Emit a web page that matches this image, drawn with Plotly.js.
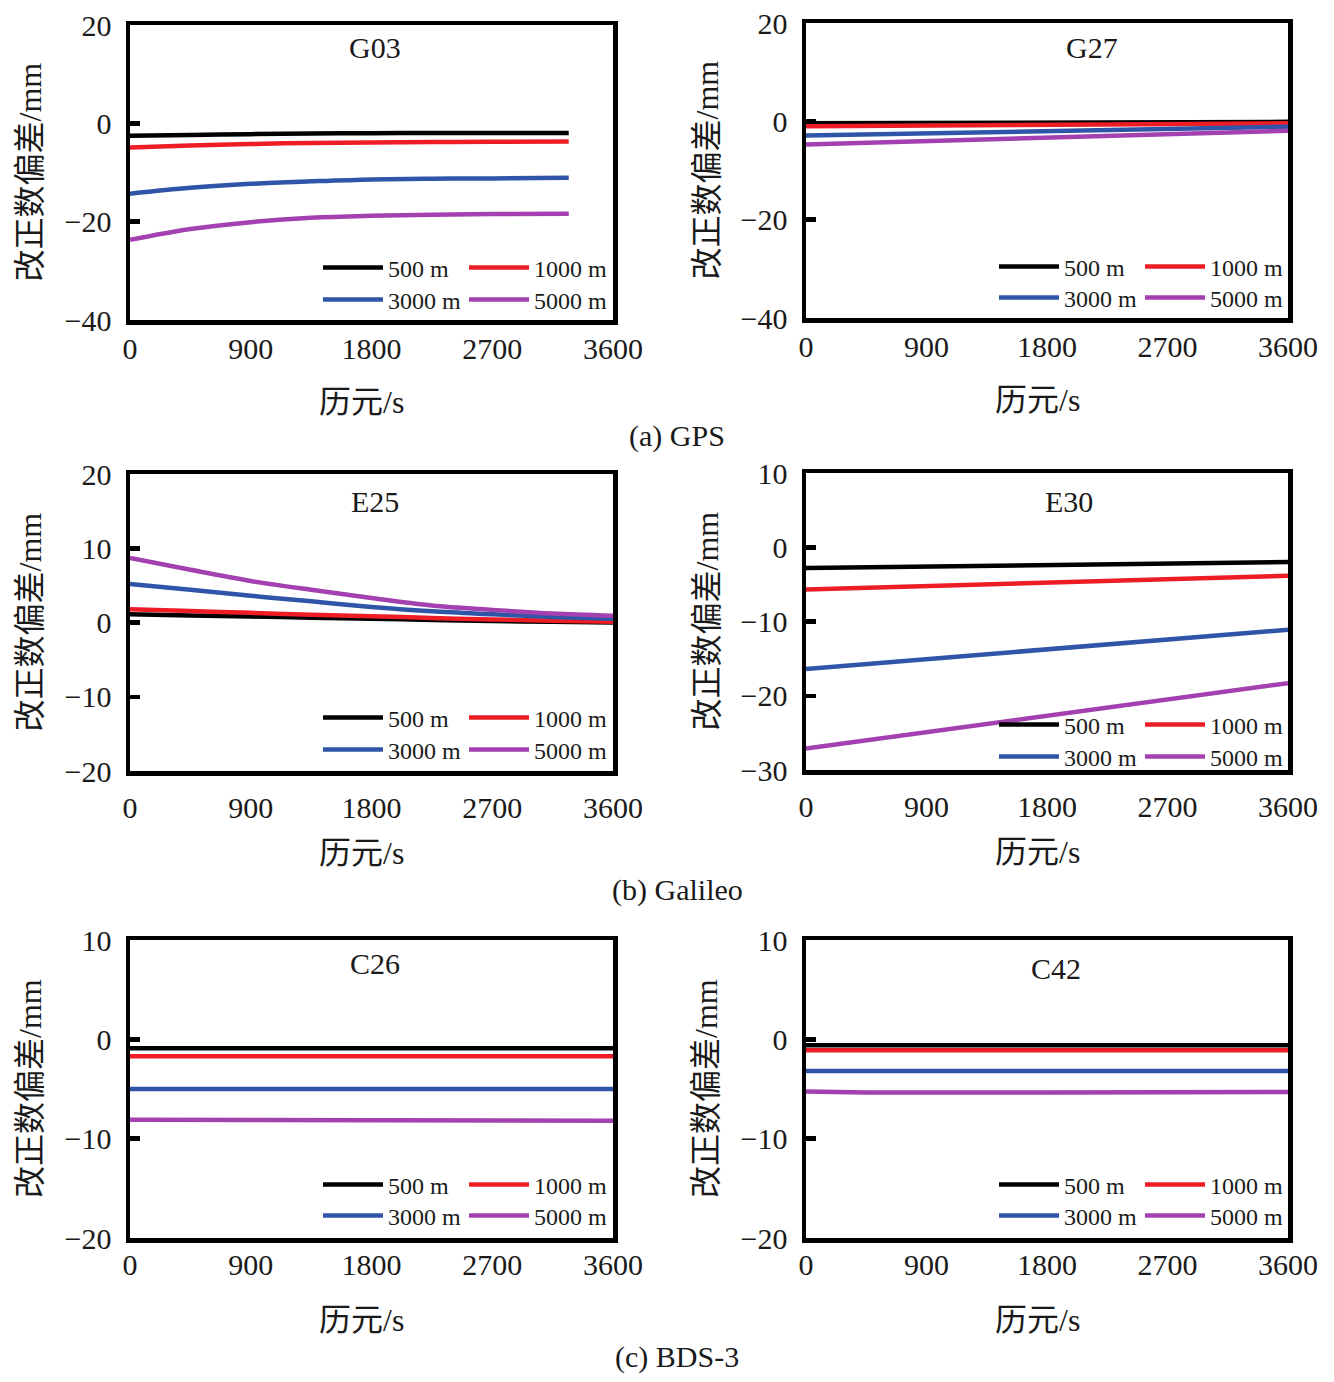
<!DOCTYPE html>
<html>
<head>
<meta charset="utf-8">
<script src="https://cdn.plot.ly/plotly-3.0.1.min.js"></script>
<style>
  body { margin: 0; background: #fff; }
  #chart { width: 1334px; height: 1382px; }
</style>
</head>
<body>
<div id="chart"></div>
<script>
// baselines and panel names
const baselines = ['500 m', '1000 m', '3000 m', '5000 m'];
const lineColors = ['#000000', '#ee1c25', '#2f55a8', '#a441b0'];
const panelNames = ['G03', 'G27', 'E25', 'E30', 'C26', 'C42'];
const xTicks = [0, 900, 1800, 2700, 3600];

// G03 (ends before 3600)
const epochG03 = [0, 450, 900, 1350, 1800, 2250, 2700, 3270];
const g03_500 = [-2.5, -2.35, -2.2, -2.05, -2.0, -1.95, -1.95, -1.95];
const g03_1000 = [-4.9, -4.5, -4.2, -4.0, -3.9, -3.8, -3.75, -3.7];
const g03_3000 = [-14.3, -13.1, -12.3, -11.8, -11.4, -11.25, -11.2, -11.05];
const g03_5000 = [-23.7, -21.5, -20.1, -19.2, -18.8, -18.6, -18.45, -18.4];

// G27
const epochG27 = [0, 1800, 3600];
const g27_500 = [-0.4, -0.25, -0.1];
const g27_1000 = [-1.0, -0.7, -0.4];
const g27_3000 = [-2.9, -2.0, -1.1];
const g27_5000 = [-4.7, -3.3, -1.9];

// E25
const epochE25 = [0, 450, 900, 1350, 1800, 2250, 2700, 3150, 3600];
const e25_500 = [1.1, 0.95, 0.8, 0.65, 0.5, 0.35, 0.2, 0.1, 0.0];
const e25_1000 = [1.8, 1.55, 1.3, 1.05, 0.85, 0.6, 0.4, 0.25, 0.1];
const e25_3000 = [5.2, 4.4, 3.6, 2.85, 2.1, 1.5, 1.1, 0.75, 0.5];
const e25_5000 = [8.7, 7.1, 5.6, 4.4, 3.3, 2.3, 1.7, 1.2, 0.9];

// E30
const epochE30 = [0, 1800, 3600];
const e30_500 = [-2.8, -2.4, -2.0];
const e30_1000 = [-5.7, -4.8, -3.85];
const e30_3000 = [-16.4, -13.8, -11.1];
const e30_5000 = [-27.1, -22.7, -18.3];

// C26
const epochC26 = [0, 450, 1800, 2400, 3600];
const c26_500 = [-0.9, -0.9, -0.9, -0.9, -0.9];
const c26_1000 = [-1.7, -1.7, -1.7, -1.7, -1.7];
const c26_3000 = [-5.0, -5.0, -5.0, -5.0, -5.0];
const c26_5000 = [-8.1, -8.1, -8.1, -8.2, -8.2];

// C42
const epochC42 = [0, 450, 1800, 2400, 3600];
const c42_500 = [-0.6, -0.6, -0.6, -0.6, -0.6];
const c42_1000 = [-1.1, -1.1, -1.1, -1.1, -1.1];
const c42_3000 = [-3.2, -3.2, -3.2, -3.2, -3.2];
const c42_5000 = [-5.25, -5.35, -5.35, -5.35, -5.3];

const yRanges = [[-40, 20], [-40, 20], [-20, 20], [-30, 10], [-20, 10], [-20, 10]];
const yDticks = [20, 20, 10, 10, 10, 10];

const panels = [
  { x: epochG03, ys: [g03_500, g03_1000, g03_3000, g03_5000], spline: true },
  { x: epochG27, ys: [g27_500, g27_1000, g27_3000, g27_5000], spline: false },
  { x: epochE25, ys: [e25_500, e25_1000, e25_3000, e25_5000], spline: true },
  { x: epochE30, ys: [e30_500, e30_1000, e30_3000, e30_5000], spline: false },
  { x: epochC26, ys: [c26_500, c26_1000, c26_3000, c26_5000], spline: false },
  { x: epochC42, ys: [c42_500, c42_1000, c42_3000, c42_5000], spline: false }
];

// pixel boxes of each plot frame [left, right, top, bottom]
const W = 1334, H = 1382;
const boxes = [
  [130, 613, 25, 320],
  [806, 1288, 23, 318],
  [130, 613, 474, 771],
  [806, 1288, 473, 770],
  [130, 613, 940, 1238],
  [806, 1288, 940, 1238]
];
// legend row centres (px), title positions, x tick label gaps
const legendRows = [[268, 300], [267, 298], [718, 750], [725, 757], [1185, 1216], [1185, 1216]];
const titlePos = [[375, 48], [1092, 48], [375, 501], [1069, 501], [375, 963], [1056, 969]];
const xLabelGap = [-2, -2, 6, 6, -4, -4];

const FONT = 'Liberation Serif, "Noto Sans CJK SC", serif';
const px = v => v / W;
const py = v => 1 - v / H;

var data = [];
var layout = {
  width: W,
  height: H,
  margin: { l: 0, r: 0, t: 0, b: 0 },
  paper_bgcolor: '#fff',
  plot_bgcolor: '#fff',
  font: { family: FONT, size: 30, color: '#1a1a1a' },
  showlegend: true,
  annotations: [],
  hovermode: false
};

panels.forEach(function(p, i) {
  var n = i + 1;
  var xa = n === 1 ? 'x' : 'x' + n;
  var ya = n === 1 ? 'y' : 'y' + n;
  p.ys.forEach(function(yv, k) {
    var legNum = 2 * i + (k < 2 ? 1 : 2);
    data.push({
      type: 'scatter',
      mode: 'lines',
      x: p.x,
      y: yv,
      name: baselines[k],
      xaxis: xa,
      yaxis: ya,
      legend: legNum === 1 ? 'legend' : 'legend' + legNum,
      line: { color: lineColors[k], width: 4.5, shape: p.spline ? 'spline' : 'linear' }
    });
  });

  var b = boxes[i];
  layout['xaxis' + (n === 1 ? '' : n)] = {
    domain: [px(b[0]), px(b[1])],
    anchor: ya,
    range: [0, 3600],
    tickvals: xTicks,
    ticks: '',
    showline: true, mirror: true, linecolor: '#000', linewidth: 4.5,
    showgrid: false, zeroline: false,
    tickfont: { size: 30 },
    ticklabelstandoff: xLabelGap[i]
  };
  layout['yaxis' + (n === 1 ? '' : n)] = {
    domain: [py(b[3]), py(b[2])],
    anchor: xa,
    range: yRanges[i],
    dtick: yDticks[i],
    ticks: 'inside', ticklen: 10, tickwidth: 4.5, tickcolor: '#000',
    showline: true, mirror: true, linecolor: '#000', linewidth: 4.5,
    showgrid: false, zeroline: false,
    tickfont: { size: 30 },
    ticklabelstandoff: 8
  };

  // two legend rows per panel
  legendRows[i].forEach(function(rowY, r) {
    var legNum = 2 * i + r + 1;
    layout[legNum === 1 ? 'legend' : 'legend' + legNum] = {
      orientation: 'h',
      x: px(b[0] + 188),
      xanchor: 'left',
      y: py(rowY),
      yanchor: 'middle',
      bgcolor: 'rgba(0,0,0,0)',
      borderwidth: 0,
      entrywidth: 71,
      entrywidthmode: 'pixels',
      itemwidth: 60,
      font: { size: 24, family: FONT, color: '#1a1a1a' }
    };
  });

  // panel title
  layout.annotations.push({
    text: panelNames[i], xref: 'paper', yref: 'paper',
    x: px(titlePos[i][0]), y: py(titlePos[i][1]),
    xanchor: 'center', yanchor: 'middle', showarrow: false,
    font: { size: 30 }
  });
  // axis titles
  layout.annotations.push({
    text: '历元/s', xref: 'paper', yref: 'paper',
    x: px((b[0] + b[1]) / 2 - 10), y: py(b[3] + 82),
    xanchor: 'center', yanchor: 'middle', showarrow: false,
    font: { size: 32 }
  });
  layout.annotations.push({
    text: '改正数偏差/mm', xref: 'paper', yref: 'paper',
    x: px(b[0] - 100), y: py((b[2] + b[3]) / 2),
    xanchor: 'center', yanchor: 'middle', showarrow: false,
    textangle: -90,
    font: { size: 32 }
  });
});

// group captions
const captions = [['(a) GPS', 436], ['(b) Galileo', 890], ['(c) BDS-3', 1357]];
captions.forEach(function(c) {
  layout.annotations.push({
    text: c[0], xref: 'paper', yref: 'paper',
    x: px(677), y: py(c[1]),
    xanchor: 'center', yanchor: 'middle', showarrow: false,
    font: { size: 30 }
  });
});

Plotly.newPlot('chart', data, layout, { staticPlot: true });
</script>
</body>
</html>
